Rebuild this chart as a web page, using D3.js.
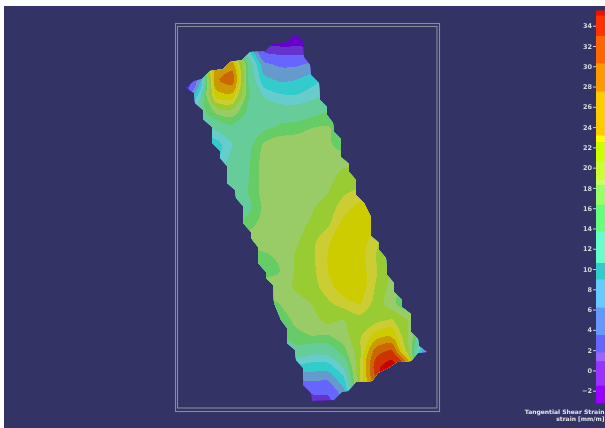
<!DOCTYPE html>
<html><head><meta charset="utf-8">
<script src="https://cdn.jsdelivr.net/npm/d3@7"></script>
<style>html,body{margin:0;padding:0;background:#fff;overflow:hidden}svg{display:block}</style>
</head><body><div id="c"></div>
<script>
// Strain field sampled on a regular grid (16 columns, 25 rows), in mm/m.
const strainRows = [
[12,12,14,16,10,-3,-6,-5,-5,-3,0,5,10,12,14,16],
[12,12,16,18,8,0,-0.5,-0.5,-0.5,2,6,10,12,14,16,16],
[10,12,26,26.5,13.5,4,3,3,4,6,9,12,14,16,16,16],
[-2,5,27.5,30,13.5,7,5.5,6,7.5,9,11,14,15,16,16,16],
[0,10,23.5,24,14,10.3,9,8.7,9.8,11,13,15,16,16,16,16],
[8,12,16,17,13,12,12,12,12.5,13.6,14,15,16,16,16,16],
[8,10,11,12.5,12.5,13,14,14.5,15.5,15.8,14,15,16,16,16,16],
[5,5,7.5,10.3,12.5,15.8,17,17,17,16,14,15,16,16,16,16],
[6,7,8,11.5,13,16.5,17,17,17,17,17,17,17,17,17,17],
[10,10,11,12,13.3,16.5,17,17,17,17,19,19,19,18,18,18],
[11,11,11,12,13.5,16.5,17,17,17,17.9,20.2,21,21,20,18,18],
[12,12,12,12.5,12.8,16,17,17,17.7,19.5,21.5,23.5,24,22,19,18],
[13,13,13,13,14.5,16.5,17,17,18.5,20,23.5,23.8,23,21,19,18],
[14,14,14,14,16.5,17,17,17.5,19.8,22.2,23.8,24,21,19,18,18],
[14,14,14,14,14,15,16,18.3,20,22.6,24,23.5,20.5,18,17,16],
[14,14,14,14,14,14.7,15.5,18.4,19.8,22.5,24,23.7,20.8,17.5,16,16],
[13,13,13,13,15,16.5,17,18.3,19.5,21.6,23.8,24,20.2,17,14,14],
[12,12,12,12,13,14,15.5,17,18,20,21.5,22.6,19.5,16.5,13,12],
[11,11,11,11,12,13,14,16.2,16.8,19,18,19.5,19.8,20.8,18,12],
[10,10,10,10,11,12,13,14.8,15.5,15.2,17,20.2,23.5,24.5,18,10],
[8,8,8,8,8,9,10,12.5,11.2,11.6,14.5,20,30,32,19,4],
[6,6,6,6,6,6,7,7.5,7,7,10.5,20.5,33,35,31,3],
[2,2,2,2,2,2,2,2,2.8,2.5,7,20,30,36,28,3],
[-3,-3,-3,-3,-3,-3,-3,-3,0,0.4,3.5,16,25,30,20,3],
[-8,-8,-8,-8,-8,-8,-8,-8,-15,-8,-2,10,16,20,14,3]
];
const gridX = [184,424];
const gridY = [32,416];

// Band limits and colours of the filled contours.
const mapThresholds = [-100,-1,1,3.5,6,8.5,10.5,13.5,15.5,18,20.5,22.5,25,28,31,33.5];
const mapColors = ["#6600cc","#6633cc","#6666ff","#6699cc","#33cccc","#66cccc","#66cc99","#66cc66","#99cc66","#99cc33","#cccc33","#cccc00","#cc9900","#cc6600","#cc3300","#cc0000"];

// Specimen outline.
const outlineX = [295,303,304,310,311,319,320,327,327,333,334,341,341,349,349,356,356,364,371,371,379,379,386,387,394,394,402,402,411,411,418,419,427,418,411,397,388,378,372,356,348,342,334,312,311,303,303,296,295,287,287,281,274,273,266,266,258,258,251,251,243,243,236,235,227,227,220,220,212,212,203,203,195,194,186,194,202,210,223,230,242,250,265,272,287];
const outlineY = [34,41,57,65,75,83,100,107,115,123,132,139,157,164,172,180,195,203,217,236,243,250,258,275,283,292,300,307,314,332,339,346,352,353,361,362,368,373,381,382,391,392,400,401,393,385,368,360,350,343,328,320,303,285,278,272,263,247,238,232,223,206,198,190,183,166,158,151,143,127,119,110,103,93,88,81,79,71,69,62,60,52,51,44,42];

// Colour legend.
const tickValues = [34,32,30,28,26,24,22,20,18,16,14,12,10,8,6,4,2,0,-2];
const legendBreaks = [35.5,35,33,30.3,27.5,23.2,22.5,20.7,18.8,18.3,16.3,13.7,10.6,9,6.2,3.5,1.8,0.9,-1.5,-3.2];
const legendColors = ["#ee1100","#ff3300","#ff6600","#ff9900","#ffcc00","#ffff00","#ccff00","#ccff33","#ccff66","#99ff66","#66ff80","#66ffcc","#33cccc","#66ccff","#6699ff","#6666ff","#9966ff","#9933ff","#9900ff"];
const legendTitle = ["Tangential Shear Strain","strain [mm/m]"];

const W=605,H=428;
const svg=d3.select("#c").append("svg").attr("width",W).attr("height",H);
const f=svg.append("defs").append("filter").attr("id","soft").attr("x","-10%").attr("y","-10%").attr("width","120%").attr("height","120%");
f.append("feGaussianBlur").attr("stdDeviation",0.35);
svg.append("rect").attr("x",4).attr("y",6).attr("width",W-4).attr("height",H-6).attr("fill","#333366");

const nx=strainRows[0].length, ny=strainRows.length;
const values=strainRows.flat();
const xS=d3.scaleLinear().domain([0.5,nx-0.5]).range(gridX);
const yS=d3.scaleLinear().domain([0.5,ny-0.5]).range(gridY);
const contours=d3.contours().size([nx,ny]).smooth(true).thresholds(mapThresholds)(values);
const ringLine=d3.line().x(p=>xS(p[0])).y(p=>yS(p[1])).curve(d3.curveCatmullRomClosed.alpha(0.5));
const bandPath=c=>c.coordinates.map(poly=>poly.map(r=>ringLine(r.slice(0,-1))).join("")).join("");

const px=d3.scaleIdentity(), py=d3.scaleIdentity();
const outline=outlineX.map((x,i)=>[px(x),py(outlineY[i])]);
svg.append("clipPath").attr("id","spec").append("path").attr("d",d3.line()(outline)+"Z");
const g=svg.append("g").attr("clip-path","url(#spec)");
g.selectAll("path").data(contours).join("path")
  .attr("d",bandPath).attr("fill-rule","evenodd").attr("fill",(d,i)=>mapColors[i]).attr("shape-rendering","crispEdges");

// wire frame
const frame=svg.append("g").attr("fill","none").attr("stroke","#8a8a94").attr("stroke-width",1.1);
frame.append("rect").attr("x",175.5).attr("y",23.5).attr("width",264).attr("height",388);
frame.append("rect").attr("x",177.5).attr("y",26.5).attr("width",259.5).attr("height",381.5);

// legend
const ly=d3.scaleLinear().domain([34,-2]).range([25.7,390.7]);
const lg=svg.append("g");
lg.selectAll("rect").data(legendColors).join("rect")
  .attr("x",596).attr("width",9)
  .attr("y",(d,i)=>ly(legendBreaks[i]))
  .attr("height",(d,i)=>ly(legendBreaks[i+1])-ly(legendBreaks[i])+0.5)
  .attr("fill",d=>d);
const axis=d3.axisLeft(ly).tickValues(tickValues).tickSize(3).tickPadding(1).tickFormat(d3.format("d"));
const ag=svg.append("g").attr("transform","translate(596,0)").call(axis);
ag.select(".domain").remove();
ag.selectAll("line").attr("stroke","#c8c8d0");
ag.selectAll("text").attr("fill","#d8d8de").attr("font-family","'DejaVu Sans',sans-serif").attr("font-size",6.5).attr("font-weight","bold").attr("filter","url(#soft)");

svg.selectAll("text.lt").data(legendTitle).join("text").attr("class","lt")
  .attr("x",604.5).attr("y",(d,i)=>414+i*6.8).attr("text-anchor","end")
  .attr("fill","#e4e4ea").attr("font-family","'DejaVu Sans',sans-serif").attr("font-size",6).attr("font-weight","bold").attr("filter","url(#soft)")
  .text(d=>d);
</script></body></html>
